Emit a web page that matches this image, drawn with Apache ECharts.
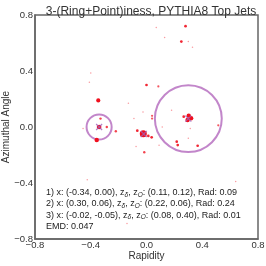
<!DOCTYPE html>
<html><head><meta charset="utf-8">
<script src="https://cdn.jsdelivr.net/npm/echarts@6/dist/echarts.min.js"></script>
<style>html,body{margin:0;padding:0;background:#fff}#c{width:266px;height:266px}</style>
</head><body><div id="c"></div>
<script>
const titleText = '3-(Ring+Point)iness, PYTHIA8 Top Jets';
const xTicks = [-0.8, -0.4, 0.0, 0.4, 0.8];
const yTicks = [-0.8, -0.4, 0.0, 0.4, 0.8];
const ringCenters = [[-0.34, 0.00], [0.30, 0.06], [-0.02, -0.05]];
const ringRadii = [0.09, 0.24, 0.01];
const zDelta = [0.11, 0.22, 0.08];
const zRing = [0.12, 0.06, 0.40];
const emd = 0.047;
// particles: rapidity, azimuth, energy fraction weight
const particleX = [-0.023, -0.346, -0.357, 0.303, 0.320, -0.340, 0.295,
  0.0, 0.28, 0.25, -0.33, -0.285, -0.22, -0.066, 0.013, 0.037, 0.217, 0.224, 0.367, -0.016, 0.04, 0.04, 0.515, 0.085, 0.267,
  -0.40, -0.41, 0.07, 0.13, 0.30, 0.33, -0.13, -0.455, -0.09, -0.025, 0.113, -0.075, 0.09, 0.18, 0.314, 0.30, -0.425, -0.14, 0.64];
const particleY = [-0.048, 0.19, -0.093, 0.081, 0.062, 0.0, 0.05,
  0.30, 0.72, 0.61, 0.06, 0.0, -0.03, -0.026, -0.064, -0.074, -0.105, -0.129, -0.134, -0.18, 0.08, 0.06, 0.012, 0.29, 0.074,
  0.386, 0.32, 0.71, 0.64, 0.61, 0.57, 0.17, -0.01, 0.06, 0.107, 0.0, -0.14, -0.13, 0.12, -0.01, -0.08, -0.376, -0.69, -0.39];
const particleW = [1.0, 0.35, 0.4, 0.4, 0.4, 0.45, 0.4,
  0.15, 0.15, 0.15, 0.12, 0.12, 0.12, 0.15, 0.15, 0.15, 0.15, 0.15, 0.15, 0.12, 0.1, 0.1, 0.1, 0.1, 0.15,
  0.03, 0.03, 0.03, 0.03, 0.03, 0.03, 0.03, 0.03, 0.03, 0.03, 0.03, 0.03, 0.03, 0.03, 0.03, 0.03, 0.03, 0.03, 0.03];

const fmt = v => (v < 0 ? '\u2212' : '') + Math.abs(v).toFixed(1);
const f2 = v => v.toFixed(2);
const lines = ringCenters.map((c, i) =>
  (i + 1) + ') x: (' + f2(c[0]) + ', ' + f2(c[1]) + '), z{s|\u03b4}, z{s|O}: (' +
  f2(zDelta[i]) + ', ' + f2(zRing[i]) + '), Rad: ' + f2(ringRadii[i]));
lines.push('EMD: ' + emd.toFixed(3));

const FONT = 'Liberation Sans';
const particles = particleX.map((x, i) => ({
  value: [x, particleY[i], particleW[i]],
  itemStyle: { opacity: Math.min(1, 0.3 + 4 * particleW[i]) }
}));

const chart = echarts.init(document.getElementById('c'), null, { renderer: 'canvas' });
chart.setOption({
  animation: false,
  backgroundColor: '#fff',
  textStyle: { fontFamily: FONT },
  title: {
    text: titleText, left: 146, top: 1, textAlign: 'center',
    textStyle: { fontFamily: FONT, fontSize: 12, fontWeight: 'normal', color: '#333' }
  },
  grid: { left: 35, right: 8, top: 15, bottom: 27, containLabel: false, outerBoundsMode: 'none',
    show: true, borderColor: '#666', borderWidth: 1.5, backgroundColor: 'transparent' },
  xAxis: {
    type: 'value', min: -0.8, max: 0.8, interval: 0.4,
    name: 'Rapidity', nameLocation: 'middle', nameGap: 12, nameMoveOverlap: false,
    nameTextStyle: { fontFamily: FONT, fontSize: 10, color: '#333' },
    axisLine: { show: true, onZero: false, lineStyle: { color: '#666', width: 1.5 } },
    axisTick: { show: false }, splitLine: { show: false },
    axisLabel: { formatter: fmt, fontFamily: FONT, fontSize: 9.5, color: '#333', margin: 1 }
  },
  yAxis: {
    type: 'value', min: -0.8, max: 0.8, interval: 0.4,
    name: 'Azimuthal Angle', nameLocation: 'middle', nameGap: 24, nameMoveOverlap: false,
    nameTextStyle: { fontFamily: FONT, fontSize: 10, color: '#333' },
    axisLine: { show: true, onZero: false, lineStyle: { color: '#666', width: 1.5 } },
    axisTick: { show: false }, splitLine: { show: false },
    axisLabel: { formatter: fmt, fontFamily: FONT, fontSize: 9.5, color: '#333', margin: 2 }
  },
  graphic: [{
    type: 'text', left: 46, top: 187, z: 100,
    style: {
      text: lines.join('\n'), fontFamily: FONT, fontSize: 9, lineHeight: 11.3, fill: '#222',
      rich: { s: { fontSize: 6.5, fontStyle: 'italic', verticalAlign: 'bottom', lineHeight: 11.3, fill: '#222', padding: [3, 0, 0, 0] } }
    }
  }],
  series: [
    {
      type: 'custom', z: 3, silent: true,
      data: ringCenters.map((c, i) => [c[0], c[1], ringRadii[i]]),
      renderItem: (params, api) => {
        const c = api.coord([api.value(0), api.value(1)]);
        const r = api.size([api.value(2), 0])[0];
        return { type: 'circle', shape: { cx: c[0], cy: c[1], r: r },
          style: { fill: 'none', stroke: '#c286ca', lineWidth: 2 } };
      }
    },
    {
      type: 'scatter', z: 4, silent: true,
      data: particles,
      symbolSize: v => Math.max(1.5, 7 * Math.sqrt(v[2])),
      itemStyle: { color: '#f0101e' }
    },
    {
      type: 'scatter', z: 5, silent: true,
      data: ringCenters,
      symbol: 'path://M0,0L10,10M10,0L0,10',
      symbolSize: 6,
      itemStyle: { color: 'rgba(0,0,0,0)', borderColor: '#a060b8', borderWidth: 1.2, opacity: 0.8 }
    }
  ]
});
</script></body></html>
